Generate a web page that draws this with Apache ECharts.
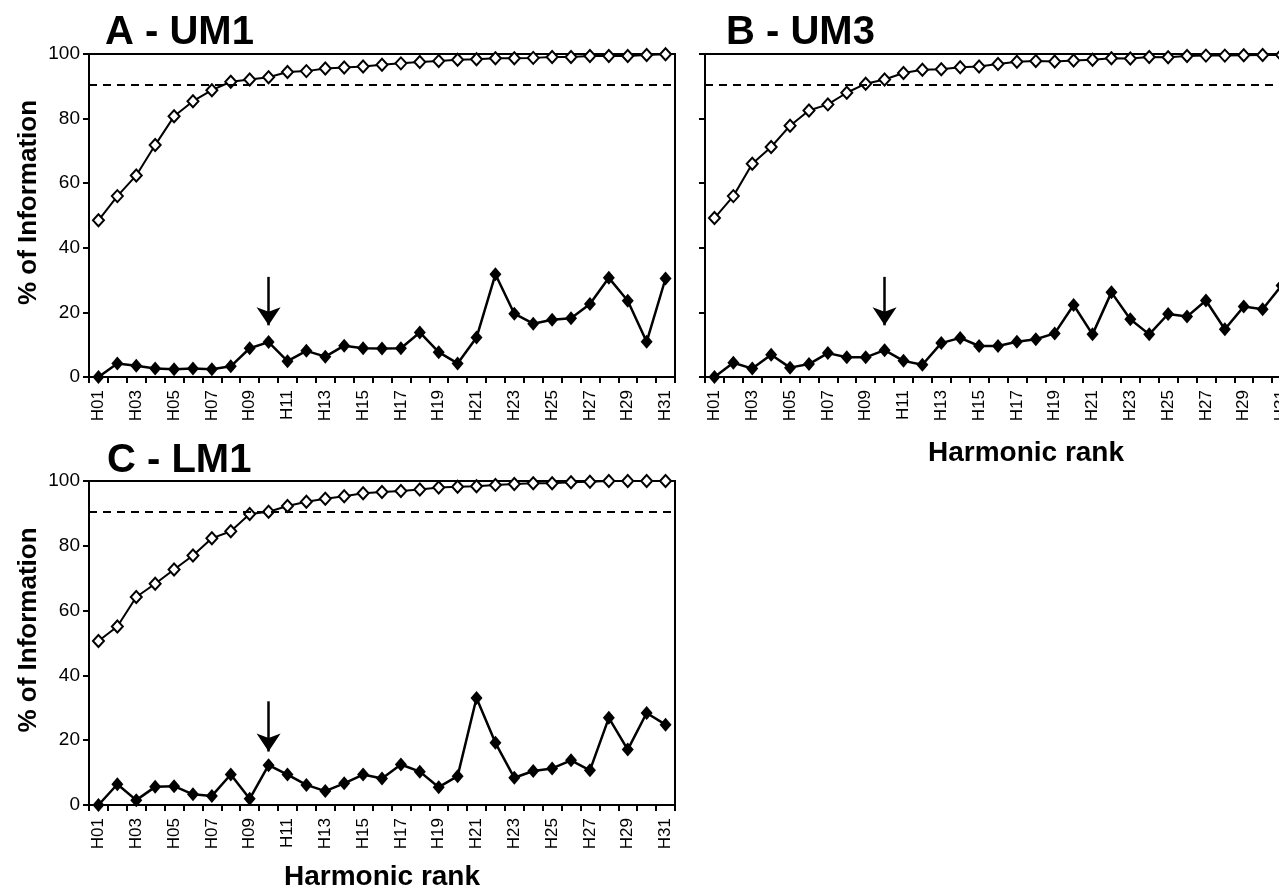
<!DOCTYPE html>
<html>
<head>
<meta charset="utf-8">
<script src="https://cdn.jsdelivr.net/npm/echarts@6/dist/echarts.min.js"></script>
<style>html,body{margin:0;padding:0;background:#fff}#c{width:1279px;height:889px}</style>
</head>
<body>
<div id="c"></div>
<script>
const categories = ['H01','H02','H03','H04','H05','H06','H07','H08','H09','H10','H11','H12','H13','H14','H15','H16','H17','H18','H19','H20','H21','H22','H23','H24','H25','H26','H27','H28','H29','H30','H31'];
const yTicks = [0, 20, 40, 60, 80, 100];
const threshold = 90.5;

const cumA = [48.5,56,62.4,71.8,80.7,85.4,88.8,91.4,92.1,92.8,94.4,94.7,95.5,95.8,96.1,96.7,97.1,97.5,97.8,98.2,98.4,98.7,98.7,98.8,99.1,99.1,99.4,99.4,99.4,99.7,99.9];
const indA = [0,4.2,3.5,2.6,2.4,2.6,2.4,3.3,8.9,10.8,4.9,8.1,6.3,9.7,8.9,8.8,8.9,13.8,7.7,4.2,12.2,31.8,19.6,16.5,17.7,18.2,22.6,30.7,23.6,10.9,30.5];

const cumB = [49.2,56,66,71.2,77.8,82.5,84.4,88,90.8,92.1,94.1,95.1,95.3,95.9,96.1,96.9,97.6,97.8,97.7,98,98.2,98.7,98.6,99.1,99,99.4,99.5,99.5,99.6,99.7,99.7];
const indB = [0,4.4,2.6,6.9,2.9,4,7.4,6.1,6.1,8.3,5,3.8,10.5,12.1,9.6,9.6,10.9,11.7,13.5,22.3,13.2,26.2,17.9,13.2,19.5,18.7,23.7,14.8,21.8,21,28.3];

const cumC = [50.6,55.1,64.2,68.3,72.7,77,82.3,84.5,89.8,90.5,92.3,93.6,94.5,95.3,96.2,96.6,96.9,97.4,98,98.2,98.4,98.8,99.1,99.3,99.3,99.6,99.8,100,100,100,100];
const indC = [0,6.4,1.5,5.6,5.8,3.3,2.8,9.4,1.9,12.3,9.4,6.2,4.3,6.7,9.4,8.2,12.5,10.3,5.5,8.9,33,19.2,8.4,10.5,11.3,13.8,10.7,26.9,17.1,28.4,24.8];

const arrowCat = 'H10';
const arrowA = [31, 16];
const arrowB = [31, 16];
const arrowC = [32, 16.5];

const panelTitles = ['A - UM1', 'B - UM3', 'C - LM1'];
const yName = '% of Information';
const xName = 'Harmonic rank';

const FONT = 'Liberation Sans, Arial, Helvetica, sans-serif';

const grids = [
  {left: 89, top: 54, width: 586, height: 323},
  {left: 705, top: 54, width: 586, height: 323},
  {left: 89, top: 481, width: 586, height: 324}
];

function xAxisFor(i, showName, nameGap, padLeft) {
  return {
    type: 'category', gridIndex: i, data: categories, boundaryGap: true,
    axisLine: {show: true, lineStyle: {color: '#000', width: 2}},
    axisTick: {show: true, inside: false, length: 6, interval: 0, lineStyle: {color: '#000', width: 2}},
    axisLabel: {interval: 1, rotate: 90, margin: 13, color: '#000', fontSize: 17, fontFamily: FONT},
    splitLine: {show: false},
    name: showName ? xName : '', nameLocation: 'middle', nameGap: nameGap,
    nameTextStyle: {fontSize: 28, fontWeight: 'bold', color: '#000', fontFamily: FONT, padding: [0, 0, 0, padLeft]}
  };
}
function yAxisFor(i, showLabels) {
  return {
    type: 'value', gridIndex: i, min: yTicks[0], max: yTicks[yTicks.length-1], interval: 20,
    axisLine: {show: true, lineStyle: {color: '#000', width: 2}},
    axisTick: {show: true, length: 6, lineStyle: {color: '#000', width: 2}},
    axisLabel: {show: showLabels, margin: 9, color: '#000', fontSize: 19, fontFamily: FONT},
    splitLine: {show: false},
    name: showLabels ? yName : '', nameLocation: 'middle', nameGap: 47, nameRotate: 90,
    nameTextStyle: {fontSize: 26, fontWeight: 'bold', color: '#000', fontFamily: FONT, padding: [0, 0, 0, 26]}
  };
}
function cumSeries(i, data) {
  return {
    type: 'line', xAxisIndex: i, yAxisIndex: i, data: data, showAllSymbol: true,
    symbol: 'diamond', symbolSize: [11, 12],
    itemStyle: {color: '#fff', borderColor: '#000', borderWidth: 2},
    lineStyle: {color: '#000', width: 2}, z: 3,
    markLine: {
      silent: true, symbol: ['none', 'none'], label: {show: false},
      lineStyle: {color: '#000', width: 2, type: [8, 6]},
      data: [{yAxis: threshold}]
    }
  };
}
function indSeries(i, data, arrow) {
  return {
    type: 'line', xAxisIndex: i, yAxisIndex: i, data: data, showAllSymbol: true,
    symbol: 'diamond', symbolSize: [12, 14],
    itemStyle: {color: '#000'},
    lineStyle: {color: '#000', width: 2.5}, z: 3,
    markLine: {
      silent: true, label: {show: false}, symbol: ['none', 'arrow'], symbolSize: 18,
      lineStyle: {color: '#000', width: 2.5, type: 'solid'},
      data: [[{coord: [arrowCat, arrow[0]]}, {coord: [arrowCat, arrow[1]]}]]
    }
  };
}

const chart = echarts.init(document.getElementById('c'), null, {renderer: 'canvas'});
const tStyle = {fontSize: 40, fontWeight: 'bold', color: '#000', fontFamily: FONT};
chart.setOption({
  animation: false,
  backgroundColor: '#fff',
  title: [
    {text: panelTitles[0], left: 100, top: 8, textStyle: tStyle},
    {text: panelTitles[1], left: 721, top: 8, textStyle: tStyle},
    {text: panelTitles[2], left: 102, top: 436, textStyle: tStyle}
  ],
  grid: grids.map(g => Object.assign({show: true, borderColor: '#000', borderWidth: 2, backgroundColor: 'transparent', containLabel: false, outerBoundsMode: 'none'}, g)),
  xAxis: [xAxisFor(0, false, 0, 0), xAxisFor(1, true, 62, 56), xAxisFor(2, true, 58, 0)],
  yAxis: [yAxisFor(0, true), yAxisFor(1, false), yAxisFor(2, true)],
  series: [
    cumSeries(0, cumA), indSeries(0, indA, arrowA),
    cumSeries(1, cumB), indSeries(1, indB, arrowB),
    cumSeries(2, cumC), indSeries(2, indC, arrowC)
  ]
});
</script>
</body>
</html>
